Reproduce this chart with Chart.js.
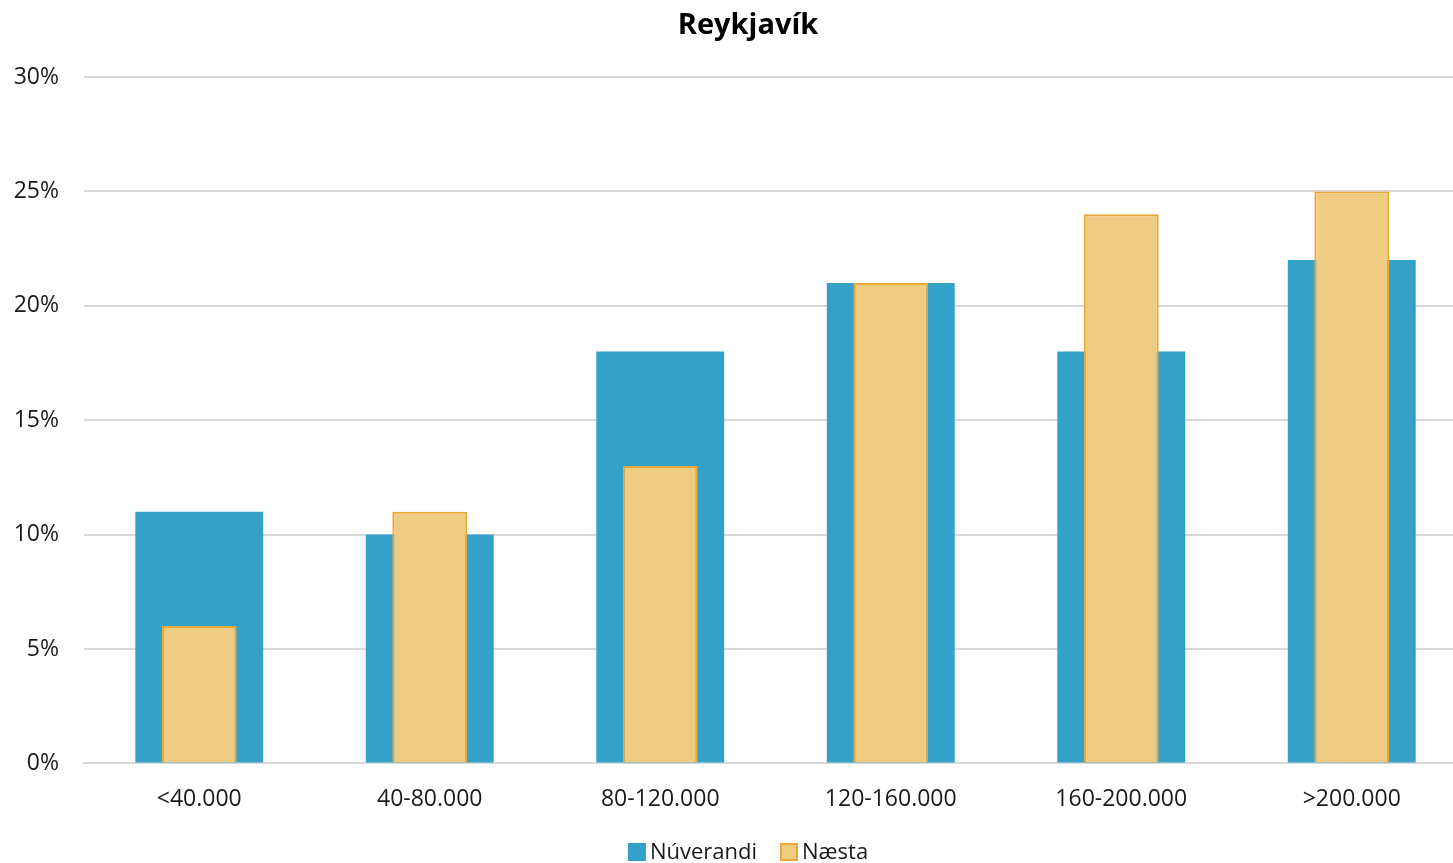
<!DOCTYPE html>
<html lang="is">
<head>
	<meta charset="UTF-8">
	<title>Reykjavík</title>
	<script src="https://cdn.jsdelivr.net/npm/chart.js@4/dist/chart.umd.min.js"></script>
	<style>
		html, body { margin: 0; padding: 0; background: #fff; overflow: hidden; }
		/* plot runs a little past the right edge of the window */
		#wrap { width: 1467px; height: 863px; }
	</style>
</head>
<body>
<div id="wrap"><canvas id="chart"></canvas></div>
<script>
// income brackets and share per bracket (%)
var categories = ['<40.000', '40-80.000', '80-120.000', '120-160.000', '160-200.000', '>200.000'];
var nuverandi = [11, 10, 18, 21, 18, 22];
var naesta = [6, 11, 13, 21, 24, 25];
var yTicks = [0, 5, 10, 15, 20, 25, 30];

var chartTitle = 'Reykjavík';
var font = "'Open Sans', 'Noto Sans', sans-serif";

// title on top and a compact legend underneath, square swatch right next to the label
var headerFooter = {
	id: 'headerFooter',
	afterDraw: function(chart) {
		var ctx = chart.ctx;
		var mid = 748;
		ctx.save();
		ctx.textBaseline = 'middle';

		ctx.font = 'bold 29px ' + font;
		ctx.fillStyle = '#000';
		ctx.textAlign = 'center';
		ctx.fillText(chartTitle, mid, 26);

		var box = 18, gapText = 4, gapItem = 23;
		ctx.font = '22px ' + font;
		var items = chart.data.datasets.map(function(ds) {
			return { ds: ds, w: ctx.measureText(ds.label).width };
		});
		var total = items.reduce(function(s, it) { return s + box + gapText + it.w; }, 0) + gapItem * (items.length - 1);
		var x = mid - total / 2;
		var cy = chart.height - 11;
		ctx.textAlign = 'left';
		items.forEach(function(it) {
			var ds = it.ds;
			ctx.fillStyle = ds.backgroundColor;
			ctx.fillRect(x, cy - box / 2, box, box);
			if (ds.borderWidth) {
				ctx.strokeStyle = ds.borderColor;
				ctx.lineWidth = ds.borderWidth;
				ctx.strokeRect(x + 1, cy - box / 2 + 1, box - 2, box - 2);
			}
			ctx.fillStyle = '#1a1a1a';
			ctx.fillText(ds.label, x + box + gapText, cy + 1);
			x += box + gapText + it.w + gapItem;
		});
		ctx.restore();
	}
};

new Chart(document.getElementById('chart'), {
	type: 'bar',
	data: {
		labels: categories,
		datasets: [{
			label: 'Núverandi',
			data: nuverandi,
			backgroundColor: '#33a1c9',
			borderWidth: 0,
			categoryPercentage: 1,
			barPercentage: 0.555,
			order: 1
		}, {
			label: 'Næsta',
			data: naesta,
			backgroundColor: '#f0cb82',
			borderColor: '#e8a838',
			borderWidth: 2,
			categoryPercentage: 1,
			barPercentage: 0.325,
			order: 0
		}]
	},
	plugins: [headerFooter],
	options: {
		responsive: true,
		maintainAspectRatio: false,
		animation: false,
		layout: { padding: { left: 12, right: 0, top: 77, bottom: 36 } },
		datasets: { bar: { grouped: false } },
		plugins: {
			title: { display: false },
			legend: { display: false },
			tooltip: { enabled: false }
		},
		scales: {
			x: {
				grid: { display: false },
				border: { color: '#d9d9d9', width: 2 },
				ticks: { color: '#1a1a1a', font: { family: font, size: 23 }, padding: 14 }
			},
			y: {
				min: 0,
				max: 30,
				afterBuildTicks: function(axis) {
					axis.ticks = yTicks.map(function(v) { return { value: v }; });
				},
				afterFit: function(axis) { axis.width = 72; },
				grid: { color: '#d9d9d9', lineWidth: 2, drawTicks: false },
				border: { display: false },
				ticks: {
					color: '#1a1a1a',
					font: { family: font, size: 23 },
					padding: 25,
					callback: function(v) { return v + '%'; }
				}
			}
		}
	}
});
</script>
</body>
</html>
